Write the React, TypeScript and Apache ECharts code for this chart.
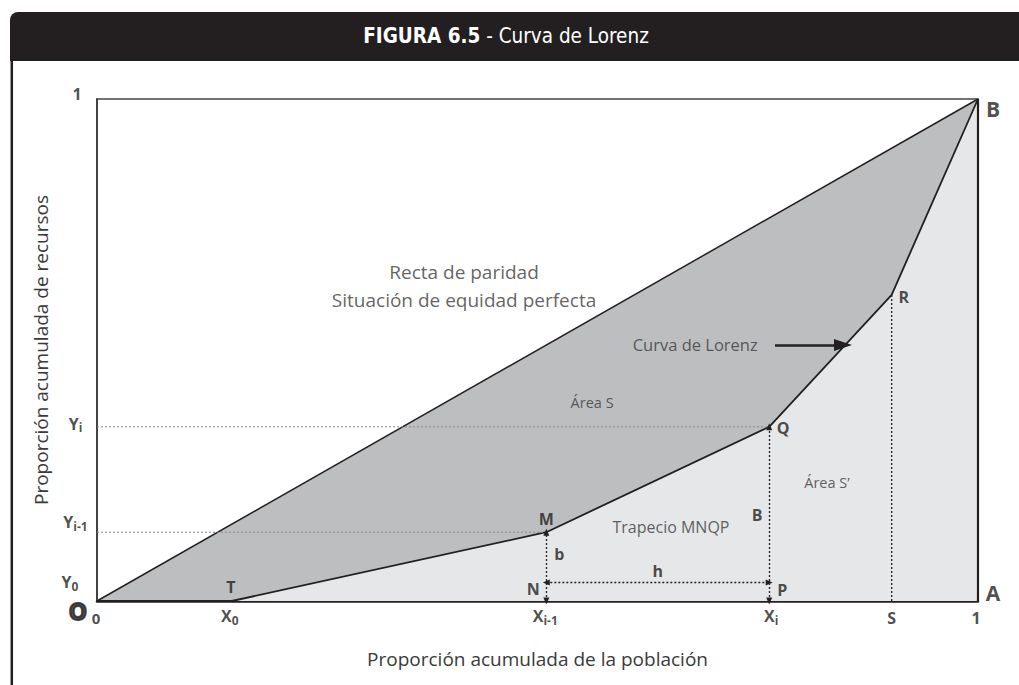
import React, { useEffect, useRef } from 'react';
import * as echarts from 'echarts';

// ---- data ----
const lorenzX = [0, 0.153, 0.51, 0.763, 0.902, 1];
const lorenzY = [0, 0, 0.137, 0.347, 0.61, 1];
const pointNames = ['', 'T', 'M', 'Q', 'R', 'B'];
const parityX = [0, 1];
const parityY = [0, 1];
const xTickValues = [0.153, 0.51, 0.763, 0.902, 1];
const xTickMain = ['X', 'X', 'X', 'S', '1'];
const xTickSub = ['0', 'i-1', 'i', '', ''];
const yTickValues = [0, 0.137, 0.347, 1];
const yTickMain = ['Y', 'Y', 'Y', '1'];
const yTickSub = ['0', 'i-1', 'i', ''];
const hArrowY = 0.037;
const annotationTexts = ['Recta de paridad', 'Situación de equidad perfecta', 'Curva de Lorenz', 'Área S', 'Área S’', 'Trapecio MNQP'];
const annotationX = [0.4166, 0.4166, 0.679, 0.562, 0.8286, 0.6515];
const annotationY = [0.655, 0.5996, 0.51, 0.396, 0.237, 0.1474];
const arrowStartX = 0.7696;
const arrowEndX = 0.8468;
const arrowY = 0.51;

// ---- styles / positions ----
const FONT = "'Open Sans', 'DejaVu Sans', sans-serif";
const COND = "'DejaVu Sans Condensed', 'Liberation Sans Narrow', sans-serif";
const INK = '#231f20';
const TXT = '#3a3a3a';
const DARK_FILL = '#bcbec0';
const LIGHT_FILL = '#e6e7e8';
const pointOffsets = [[0, 0], [-1, -14], [0, -13], [14, 1], [12, 2], [15, 10]];
const xTickOffsets = [[-2, 15], [-1, 15], [2, 15], [0, 17], [-2, 17]];
const yTickOffsets = [[-27, -19], [-21.5, -10], [-21.5, -3], [-20, -5]];
const annotationSizes = [19, 19, 16.5, 14.5, 14.5, 16];

function rich(main: string, sub: string, size: number, subSize: number, extra: any = {}) {
  return {
    formatter: sub ? `{m|${main}}{s|${sub}}` : `{m|${main}}`,
    rich: {
      m: { fontFamily: FONT, fontWeight: 'bold', fontSize: size, color: INK, lineHeight: size + 4, verticalAlign: 'middle', ...extra },
      s: { fontFamily: FONT, fontWeight: 'bold', fontSize: subSize, color: INK, lineHeight: subSize, verticalAlign: 'bottom' },
    },
  };
}

function labelItem(x: number, y: number, offset: number[], lab: any) {
  return {
    value: [x, y],
    label: { show: true, position: 'inside', offset, ...lab },
  };
}

export default function App() {
  const ref = useRef<HTMLDivElement>(null);
  useEffect(() => {
    if (!ref.current) return;
    const chart = echarts.init(ref.current, null, { renderer: 'svg' });

    const lorenzData = lorenzX.map((x, i) => [x, lorenzY[i]]);
    const parityData = parityX.map((x, i) => [x, parityY[i]]);

    const labels: any[] = [];
    pointNames.forEach((n, i) => {
      if (!n) return;
      labels.push(labelItem(lorenzX[i], lorenzY[i], pointOffsets[i], rich(n, '', i === 5 ? 21 : 16, 12)));
    });
    xTickValues.forEach((v, i) => {
      labels.push(labelItem(v, 0, xTickOffsets[i], rich(xTickMain[i], xTickSub[i], 16, 12)));
    });
    yTickValues.forEach((v, i) => {
      labels.push(labelItem(0, v, yTickOffsets[i], rich(yTickMain[i], yTickSub[i], 16, 12)));
    });
    // origin
    labels.push(labelItem(0, 0, [-19, 10], rich('O', '', 23, 12, { lineHeight: 18, textBorderColor: INK, textBorderWidth: 2 })));
    labels.push(labelItem(0, 0, [-1, 17], rich('0', '', 15, 12, { lineHeight: 16 })));
    // A
    labels.push(labelItem(1, 0, [15, -8], rich('A', '', 21, 12)));
    // trapezoid letters
    labels.push(labelItem(lorenzX[2], 0, [-13, -12], rich('N', '', 16, 12)));
    labels.push(labelItem(lorenzX[3], 0, [13, -11], rich('P', '', 16, 12)));
    labels.push(labelItem(lorenzX[2], 0, [13, -47], rich('b', '', 16, 12)));
    labels.push(labelItem((lorenzX[2] + lorenzX[3]) / 2, hArrowY, [0, -11], rich('h', '', 16, 12)));
    labels.push(labelItem(lorenzX[3], 0, [-12, -86], rich('B', '', 16, 12)));
    annotationTexts.forEach((t, i) => {
      labels.push(
        labelItem(annotationX[i], annotationY[i], [0, 0], {
          formatter: t,
          fontFamily: FONT,
          fontSize: annotationSizes[i],
          color: TXT,
        })
      );
    });

    const dotted = (color: string, width: number) => ({ color, width, type: [2, 2] as any });

    chart.setOption({
      animation: false,
      grid: { left: 97, top: 99, width: 881, height: 502, show: true, borderColor: '#444', borderWidth: 1.5, backgroundColor: 'transparent' },
      xAxis: {
        type: 'value', min: 0, max: 1,
        name: 'Proporción acumulada de la población', nameLocation: 'middle', nameGap: 48,
        nameTextStyle: { fontFamily: FONT, fontSize: 19, color: TXT },
        axisLine: { show: true, onZero: false, lineStyle: { color: INK, width: 2.5 } },
        axisTick: { show: false }, axisLabel: { show: false }, splitLine: { show: false },
      },
      yAxis: {
        type: 'value', min: 0, max: 1,
        name: 'Proporción acumulada de recursos', nameLocation: 'middle', nameGap: 47, nameRotate: 90,
        nameTextStyle: { fontFamily: FONT, fontSize: 19, color: TXT },
        axisLine: { show: true, lineStyle: { color: '#333', width: 1.5 } },
        axisTick: { show: false }, axisLabel: { show: false }, splitLine: { show: false },
      },
      graphic: [
        { type: 'rect', shape: { x: 10, y: 12, width: 1015, height: 49, r: [8, 0, 0, 0] }, style: { fill: INK }, silent: true },
        { type: 'line', shape: { x1: 11.8, y1: 60, x2: 11.8, y2: 690 }, style: { stroke: INK, lineWidth: 2.5 }, silent: true },
        {
          type: 'text', x: 506, y: 36, silent: true,
          style: {
            text: '{b|FIGURA 6.5}{r| - Curva de Lorenz}',
            textAlign: 'center', textVerticalAlign: 'middle',
            rich: {
              b: { fontFamily: COND, fontWeight: 'bold', fontSize: 20.5, fill: '#ffffff' },
              r: { fontFamily: COND, fontWeight: 'normal', fontSize: 20.5, fill: '#ffffff' },
            },
          },
        },
      ],
      series: [
        {
          name: 'Recta de paridad', type: 'line', data: parityData, symbol: 'none', z: 1,
          lineStyle: { color: INK, width: 1.5 }, areaStyle: { color: DARK_FILL, opacity: 1 },
        },
        {
          name: 'Curva de Lorenz', type: 'line', data: lorenzData, symbol: 'none', z: 2,
          lineStyle: { color: INK, width: 1.8 }, areaStyle: { color: LIGHT_FILL, opacity: 1 },
        },
        {
          name: 'Yi guide', type: 'line', symbol: 'none', z: 3,
          data: [[0, lorenzY[3]], [lorenzX[3], lorenzY[3]]], lineStyle: dotted('#8a8a8a', 1),
        },
        {
          name: 'Yi-1 guide', type: 'line', symbol: 'none', z: 3,
          data: [[0, lorenzY[2]], [lorenzX[2], lorenzY[2]]], lineStyle: dotted('#8a8a8a', 1),
        },
        {
          name: 'S guide', type: 'line', symbol: 'none', z: 3,
          data: [[lorenzX[4], 0], [lorenzX[4], lorenzY[4]]], lineStyle: dotted(INK, 1.3),
        },
        {
          name: 'Right edge', type: 'line', symbol: 'none', z: 4,
          data: [[1, 0], [1, 1]], lineStyle: { color: INK, width: 2.2 },
        },
        {
          name: 'Arrows', type: 'line', data: [], z: 5,
          markLine: {
            silent: true, symbol: ['triangle', 'triangle'], symbolSize: [6, 7],
            label: { show: false }, emphasis: { disabled: true },
            lineStyle: dotted(INK, 1.3),
            data: [
              [{ coord: [lorenzX[2], 0] }, { coord: [lorenzX[2], lorenzY[2]] }],
              [{ coord: [lorenzX[3], 0] }, { coord: [lorenzX[3], lorenzY[3]] }],
              [{ coord: [lorenzX[2], hArrowY] }, { coord: [lorenzX[3], hArrowY] }],
            ],
          },
        },
        {
          name: 'Pointer', type: 'line', data: [], z: 5,
          markLine: {
            silent: true, symbol: ['none', 'triangle'], symbolSize: [12, 18],
            label: { show: false }, emphasis: { disabled: true },
            lineStyle: { color: INK, width: 2.5, type: 'solid' },
            data: [[{ coord: [arrowStartX, arrowY] }, { coord: [arrowEndX, arrowY] }]],
          },
        },
        {
          name: 'Labels', type: 'scatter', symbolSize: 0, z: 10, silent: true,
          data: labels,
        },
      ],
    });
    return () => chart.dispose();
  }, []);
  return <div ref={ref} style={{ position: 'fixed', left: 0, top: 0, width: 1019, height: 685, background: '#fff' }} />;
}
